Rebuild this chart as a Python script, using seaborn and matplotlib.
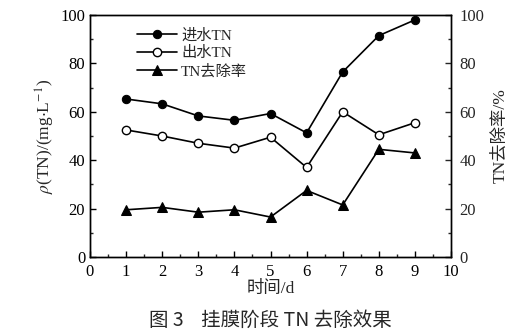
import matplotlib
matplotlib.use("Agg")
import matplotlib.pyplot as plt
import seaborn as sns
import pandas as pd
from matplotlib.ticker import MultipleLocator

days = [1, 2, 3, 4, 5, 6, 7, 8, 9]
influent_tn = [65.3, 63.3, 58.3, 56.5, 59.3, 51.3, 76.5, 91.5, 98.0]
effluent_tn = [52.5, 50.0, 47.0, 45.0, 49.5, 37.0, 60.0, 50.5, 55.5]
removal_rate = [19.5, 20.5, 18.5, 19.5, 16.5, 27.5, 21.5, 44.5, 43.0]
labels = ["进水TN", "出水TN", "TN去除率"]

sns.set_style("ticks")
plt.rcParams['font.family'] = ['Liberation Serif', 'Noto Sans CJK SC', 'DejaVu Sans']
plt.rcParams['mathtext.fontset'] = 'stix'

fig = plt.figure(figsize=(5.19, 3.35), dpi=100)
ax = fig.add_axes([0.1734, 0.233, 0.6956, 0.722])
ax2 = ax.twinx()

df = pd.DataFrame({"day": days, "in": influent_tn, "out": effluent_tn, "rm": removal_rate})

sns.lineplot(data=df, x="day", y="in", ax=ax, color="black", marker="o", markersize=6,
             markerfacecolor="black", markeredgecolor="black", linewidth=1.2, label=labels[0], legend=False)
sns.lineplot(data=df, x="day", y="out", ax=ax, color="black", marker="o", markersize=6,
             markerfacecolor="white", markeredgecolor="black", markeredgewidth=1.0, linewidth=1.2,
             label=labels[1], legend=False)
sns.lineplot(data=df, x="day", y="rm", ax=ax2, color="black", marker="^", markersize=6.5,
             markerfacecolor="black", markeredgecolor="black", linewidth=1.2, label=labels[2], legend=False)

for a in (ax, ax2):
    a.set_ylim(0, 100)
    a.yaxis.set_major_locator(MultipleLocator(20))
    a.yaxis.set_minor_locator(MultipleLocator(10))
    for s in a.spines.values():
        s.set_linewidth(1.0)
        s.set_color("black")
ax.set_xlim(0, 10)
ax.xaxis.set_major_locator(MultipleLocator(1))
ax.xaxis.set_minor_locator(MultipleLocator(0.5))

ax.tick_params(axis="both", which="major", direction="in", length=4, width=1, labelsize=12, colors="black")
ax.tick_params(axis="x", which="major", pad=5)
ax.tick_params(axis="both", which="minor", direction="in", length=2.5, width=1)
ax2.tick_params(axis="y", which="major", direction="in", length=4, width=1, labelsize=12, pad=6)
ax2.tick_params(axis="y", which="minor", direction="in", length=2.5, width=1)

ax.set_xlabel("时间/d", fontsize=12.5, labelpad=1)
ax.set_ylabel(r"$\rho$(TN)/(mg$\cdot$L$^{-1}$)", fontsize=12.5, labelpad=2)
ax2.set_ylabel("TN去除率/%", fontsize=12.5, rotation=90, labelpad=6)

h1, l1 = ax.get_legend_handles_labels()
h2, l2 = ax2.get_legend_handles_labels()
ax.legend(h1 + h2, l1 + l2, loc="upper left", bbox_to_anchor=(0.1, 0.99), frameon=False,
          fontsize=11, handlelength=2.6, handletextpad=0.3, labelspacing=0.25, borderaxespad=0.3)

fig.text(0.52, 0.012, "图 3    挂膜阶段 TN 去除效果", ha="center", va="bottom", fontsize=14,
         family=['Noto Sans CJK SC', 'DejaVu Sans'])

fig.savefig("out.png", dpi=100)
